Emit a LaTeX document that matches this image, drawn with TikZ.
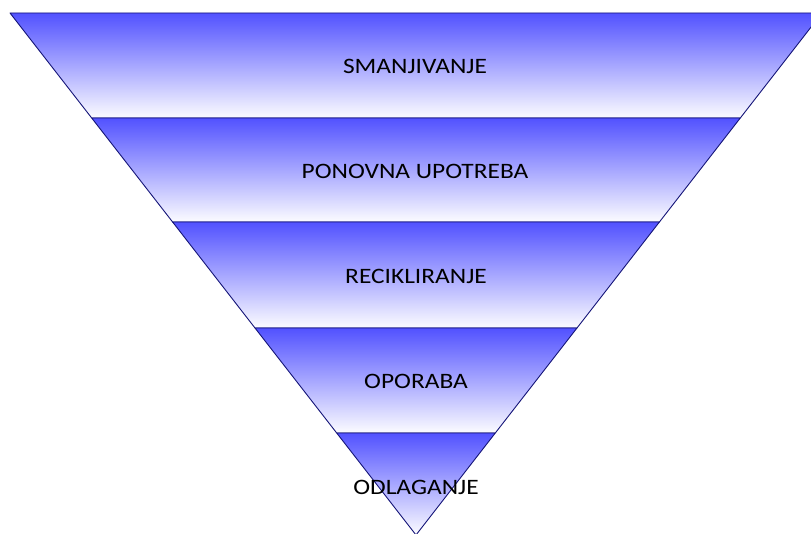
\documentclass[tikz,border=0pt]{standalone}
\usepackage{fontspec}
\setmainfont{Carlito}
\newfontfamily\lblfont[FakeStretch=1.155]{Carlito}
\definecolor{bandtop}{RGB}{82,82,255}
\definecolor{bandbot}{RGB}{252,252,255}
\definecolor{edge}{RGB}{20,20,120}
\tikzset{
  band/.style={top color=bandtop, bottom color=bandbot, draw=edge, line width=0.9pt, line join=round},
  lbl/.style={font=\lblfont\fontsize{22}{24}\selectfont, text=black, inner sep=0pt}
}
\begin{document}
\begin{tikzpicture}[x=1pt,y=-1pt]
\useasboundingbox (0,0) rectangle (811,534);
\clip (0,0) rectangle (811,534);
\coordinate (l0) at (10,13);   \coordinate (r0) at (822,13);
\coordinate (l1) at (91.7,118); \coordinate (r1) at (740.3,118);
\coordinate (l2) at (172.6,222); \coordinate (r2) at (659.4,222);
\coordinate (l3) at (255,328); \coordinate (r3) at (577,328);
\coordinate (l4) at (336.7,433); \coordinate (r4) at (495.3,433);
\coordinate (apex) at (416,535);
\shade[band] (l0) -- (r0) -- (r1) -- (l1) -- cycle;
\shade[band] (l1) -- (r1) -- (r2) -- (l2) -- cycle;
\shade[band] (l2) -- (r2) -- (r3) -- (l3) -- cycle;
\shade[band] (l3) -- (r3) -- (r4) -- (l4) -- cycle;
\shade[band] (l4) -- (r4) -- (apex) -- cycle;
\node[lbl] (t1) at (415,66) {SMANJIVANJE};
\node[lbl] (t2) at (415,171) {PONOVNA UPOTREBA};
\node[lbl] (t3) at (416,276) {RECIKLIRANJE};
\node[lbl] (t4) at (416,381) {OPORABA};
\node[lbl] (t5) at (416,487) {ODLAGANJE};
\end{tikzpicture}
\end{document}
